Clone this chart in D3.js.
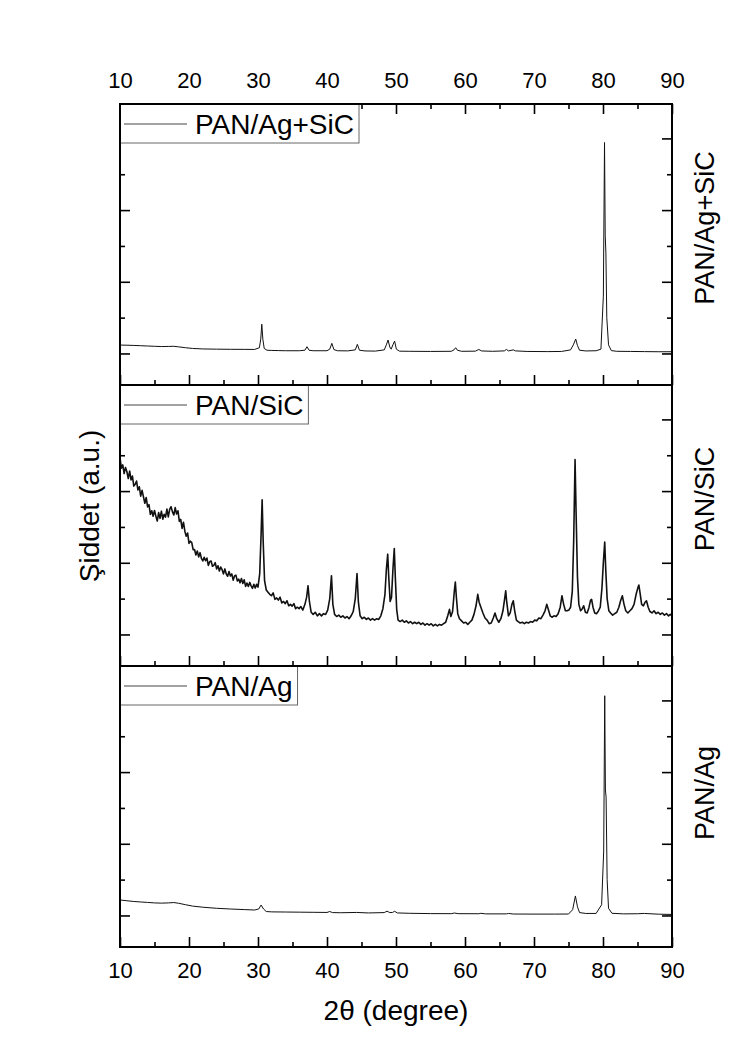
<!DOCTYPE html>
<html>
<head>
<meta charset="utf-8">
<script src="https://cdn.jsdelivr.net/npm/d3@7"></script>
<style>
  body { margin: 0; background: #fff; }
  text { font-family: "Liberation Sans", Arial, sans-serif; fill: #000; }
</style>
</head>
<body>
<div id="chart"></div>
<script>
const W = 731, H = 1050;
const panelNames = ["PAN/Ag+SiC", "PAN/SiC", "PAN/Ag"];
const xMajor = [10, 20, 30, 40, 50, 60, 70, 80, 90];
const xMinor = [15, 25, 35, 45, 55, 65, 75, 85];
const yMajor = [0, 1000, 2000, 3000];
const yMinor = [500, 1500, 2500];

// [2θ, intensity]
const agSic = [
  [10,117],[11,115],[12,112],[13,108],[14,104],[15,100],[16,96],[17,98],[17.8,100],[18.5,92],[19.5,80],[20.5,70],
  [22,63],[24,60],[26,58],[28,57],[29.5,56],[30.2,80],[30.4,200],[30.55,408],[30.7,200],[30.9,70],[31.3,45],
  [32,42],[33,40],[34,38],[36,38],[36.8,45],[37.1,94],[37.4,45],[38,38],[40,38],[40.4,60],[40.7,141],[41,55],
  [41.5,38],[43,36],[44.1,50],[44.4,127],[44.7,45],[45.5,35],[47,33],[48.3,50],[48.6,120],[48.85,187],[49.1,90],
  [49.3,60],[49.55,120],[49.8,173],[50.05,60],[50.5,32],[52,30],[55,28],[58,30],[58.4,50],[58.65,80],[58.9,45],
  [59.5,30],[61.5,32],[62,56],[62.4,35],[64,30],[65.7,36],[66,56],[66.3,36],[67,50],[67.3,36],[69,28],[72,26],
  [74,28],[75.3,50],[75.7,120],[76.05,201],[76.3,110],[76.6,45],[77.5,35],[79,38],[79.7,60],[80.05,800],
  [80.22,2943],[80.32,1650],[80.42,1400],[80.55,500],[80.8,120],[81.2,40],[82,30],[84,28],[86,26],[88,24],[90,24]
];

const sic = [
  [10,2460],[10.2,2320],[10.4,2365],[10.6,2245],[10.8,2330],[11,2270],[11.2,2175],[11.4,2280],[11.6,2155],
  [11.8,2210],[12,2070],[12.2,2095],[12.4,2140],[12.6,2015],[12.8,2060],[13,1930],[13.2,2010],[13.4,1920],
  [13.6,1830],[13.8,1910],[14,1780],[14.2,1810],[14.4,1675],[14.6,1725],[14.8,1650],[15,1730],[15.2,1650],
  [15.4,1582],[15.6,1700],[15.8,1620],[16,1720],[16.2,1608],[16.4,1676],[16.6,1636],[16.8,1748],[17,1640],
  [17.2,1746],[17.4,1782],[17.6,1710],[17.8,1666],[18,1770],[18.2,1680],[18.4,1725],[18.6,1578],[18.8,1605],
  [19,1480],[19.2,1565],[19.4,1440],[19.6,1370],[19.8,1415],[20,1271],[20.2,1301],[20.4,1282],[20.6,1184],
  [20.8,1185],[21,1108],[21.2,1165],[21.4,1082],[21.6,1141],[21.8,1062],[22,1025],[22.2,1076],[22.4,1029],
  [22.6,1066],[22.8,963],[23,1014],[23.2,1025],[23.4,952],[23.6,963],[23.8,1002],[24,915],[24.2,959],[24.4,884],
  [24.6,940],[24.8,903],[25,845],[25.2,914],[25.4,843],[25.6,812],[25.8,877],[26,816],[26.2,846],[26.4,757],
  [26.6,816],[26.8,827],[27,747],[27.2,772],[27.4,720],[27.6,780],[27.8,711],[28,762],[28.2,670],[28.4,718],
  [28.6,669],[28.8,726],[29,678],[29.2,644],[29.4,701],[29.6,647],[29.8,699],[30,660],
  [30.25,850],[30.45,1400],[30.6,1880],[30.75,1300],[30.95,750],[31.2,620],[31.45,590],[31.7,560],[31.95,540],
  [32.2,580],[32.45,490],[32.7,510],[32.95,480],[33.2,520],[33.45,440],[33.7,460],[33.95,430],[34.2,470],
  [34.45,400],[34.7,420],[34.95,395],[35.2,430],[35.45,360],[35.7,380],[35.95,360],[36.2,390],[36.5,340],
  [36.8,420],[37.05,520],[37.25,680],[37.45,460],[37.7,310],[38,280],[38.3,310],[38.6,260],[38.9,290],
  [39.2,260],[39.5,290],[39.8,280],[40.1,340],[40.4,500],[40.65,820],[40.85,420],[41.1,280],[41.4,250],
  [41.7,270],[42,240],[42.3,260],[42.6,230],[42.9,250],[43.2,220],[43.5,260],[43.8,320],[44.1,500],[44.35,850],
  [44.55,450],[44.8,260],[45.1,220],[45.4,240],[45.7,210],[46,230],[46.3,200],[46.6,220],[46.9,200],[47.2,220],
  [47.5,210],[47.8,260],[48.1,360],[48.4,560],[48.6,900],[48.8,1120],[48.95,800],[49.15,460],[49.35,520],
  [49.55,900],[49.75,1200],[49.9,800],[50.1,350],[50.3,200],[50.6,180],[50.9,200],[51.2,170],[51.5,190],
  [51.8,160],[52.1,180],[52.4,150],[52.7,170],[53,150],[53.3,170],[53.6,140],[53.9,160],[54.2,130],[54.5,150],
  [54.8,130],[55.1,150],[55.4,120],[55.7,140],[56,120],[56.3,140],[56.6,130],[56.9,150],[57.2,170],[57.5,260],
  [57.75,350],[57.95,250],[58.2,320],[58.45,600],[58.6,730],[58.75,520],[58.95,290],[59.2,220],[59.5,190],
  [59.8,160],[60.1,170],[60.4,140],[60.7,170],[61,200],[61.3,280],[61.6,400],[61.85,560],[62.05,450],[62.3,380],
  [62.6,300],[62.9,230],[63.2,200],[63.5,150],[63.8,160],[64.1,230],[64.35,300],[64.6,220],[64.9,170],[65.2,220],
  [65.5,330],[65.75,500],[65.9,610],[66.05,450],[66.3,260],[66.55,300],[66.8,420],[67,470],[67.2,330],
  [67.45,200],[67.7,180],[68,160],[68.3,170],[68.6,150],[68.9,170],[69.2,160],[69.5,180],[69.8,170],[70.1,200],
  [70.4,190],[70.7,230],[71,220],[71.3,270],[71.6,330],[71.85,420],[72.1,340],[72.35,260],[72.6,240],[72.9,260],
  [73.2,250],[73.5,290],[73.8,380],[74.05,540],[74.3,420],[74.55,330],[74.8,330],[75.05,340],[75.3,380],
  [75.55,600],[75.75,1300],[75.95,2440],[76.1,1700],[76.3,800],[76.5,420],[76.75,330],[77,360],[77.2,400],
  [77.45,310],[77.7,300],[77.95,370],[78.2,480],[78.35,490],[78.55,380],[78.8,300],[79.05,290],[79.3,320],
  [79.6,380],[79.85,650],[80.05,1000],[80.25,1290],[80.4,900],[80.6,500],[80.85,330],[81.1,300],[81.4,270],
  [81.7,290],[82,310],[82.3,380],[82.55,470],[82.8,540],[83.05,420],[83.3,330],[83.6,300],[83.9,330],[84.2,360],
  [84.5,420],[84.8,560],[85.05,650],[85.2,690],[85.4,560],[85.6,420],[85.85,400],[86.1,450],[86.3,470],
  [86.55,380],[86.8,320],[87.1,300],[87.4,330],[87.7,290],[88,310],[88.3,280],[88.6,300],[88.9,270],[89.2,290],
  [89.5,260],[89.75,280],[90,260]
];

const ag = [
  [10,216],[11,205],[12,195],[13,188],[14,182],[15,175],[16,172],[17,175],[17.8,180],[18.5,170],[19.5,150],
  [20.5,131],[22,115],[24,100],[26,90],[28,82],[29.5,76],[30.1,90],[30.45,145],[30.8,90],[31.2,55],[32,50],
  [34,48],[36,46],[38,44],[40,42],[40.4,55],[40.8,40],[42,38],[44.3,42],[46,35],[48.3,40],[48.7,60],[49.1,40],
  [49.5,42],[49.8,58],[50.2,35],[52,30],[55,26],[58,25],[58.5,34],[59,25],[62,24],[62.3,30],[63,22],[66,22],
  [66.3,28],[67,20],[70,19],[73,19],[75,20],[75.6,80],[76,272],[76.3,120],[76.6,40],[77.5,28],[79,28],
  [79.8,150],[80.1,900],[80.25,3065],[80.35,1750],[80.45,1650],[80.6,500],[80.8,100],[81.3,30],[83,22],
  [85,24],[86,28],[88,18],[90,14]
];

const series = [agSic, sic, ag];
const lineWidths = [1, 1.6, 1];

const left = 120, right = 672;
const tops = [104, 385, 666], panelH = 281;
const rightLabelY = [228, 499, 793];

const svg = d3.select("#chart").append("svg").attr("width", W).attr("height", H);
const x = d3.scaleLinear().domain([10, 90]).range([left, right]);

series.forEach((data, i) => {
  const top = tops[i], bottom = top + panelH;
  const y = d3.scaleLinear().domain([-440, 3480]).range([bottom, top]);
  const g = svg.append("g");

  g.append("path")
    .datum(data)
    .attr("fill", "none")
    .attr("stroke", "#111")
    .attr("stroke-width", lineWidths[i])
    .attr("stroke-linejoin", "round")
    .attr("d", d3.line().x((d) => x(d[0])).y((d) => y(d[1])));

  // ticks, all pointing inwards
  const addAxis = (axis, tx, ty) => {
    const a = g.append("g").attr("transform", `translate(${tx},${ty})`).call(axis);
    a.select(".domain").remove();
    a.selectAll("line").attr("stroke", "#000").attr("stroke-width", 1.6);
    a.selectAll("text").style("font-size", "22px").attr("fill", "#000");
    return a;
  };
  addAxis(d3.axisLeft(y).tickValues(yMajor).tickSize(-10).tickFormat(""), left, 0);
  addAxis(d3.axisLeft(y).tickValues(yMinor).tickSize(-5).tickFormat(""), left, 0);
  addAxis(d3.axisRight(y).tickValues(yMajor).tickSize(-10).tickFormat(""), right, 0);
  addAxis(d3.axisRight(y).tickValues(yMinor).tickSize(-5).tickFormat(""), right, 0);

  addAxis(d3.axisBottom(x).tickValues(xMajor).tickSize(-10).tickPadding(15)
    .tickFormat(i === 2 ? d3.format("d") : ""), 0, bottom);
  addAxis(d3.axisBottom(x).tickValues(xMinor).tickSize(-5).tickFormat(""), 0, bottom);
  if (i === 0) {
    addAxis(d3.axisTop(x).tickValues(xMajor).tickSize(-10).tickPadding(16).tickFormat(d3.format("d")), 0, top);
    addAxis(d3.axisTop(x).tickValues(xMinor).tickSize(-5).tickFormat(""), 0, top);
  }

  // legend box
  const lg = g.append("g");
  const rect = lg.append("rect")
    .attr("x", left).attr("y", top).attr("height", 39)
    .attr("fill", "#fff").attr("stroke", "#666").attr("stroke-width", 1);
  lg.append("line")
    .attr("x1", left + 4).attr("x2", left + 67)
    .attr("y1", top + 20).attr("y2", top + 20)
    .attr("stroke", "#444").attr("stroke-width", 1);
  const lt = lg.append("text")
    .attr("x", left + 75).attr("y", top + 30)
    .style("font-size", "28px")
    .text(panelNames[i]);
  rect.attr("width", 75 + lt.node().getComputedTextLength() + 5);

  // frame
  g.append("rect")
    .attr("x", left).attr("y", top)
    .attr("width", right - left).attr("height", panelH)
    .attr("fill", "none").attr("stroke", "#000").attr("stroke-width", 2);

  svg.append("text")
    .attr("transform", `translate(714,${rightLabelY[i]}) rotate(-90)`)
    .attr("text-anchor", "middle")
    .style("font-size", "27px")
    .text(panelNames[i]);
});

svg.append("text")
  .attr("x", (left + right) / 2).attr("y", 1020)
  .attr("text-anchor", "middle")
  .style("font-size", "28px")
  .text("2θ (degree)");

svg.append("text")
  .attr("transform", "translate(99,506) rotate(-90)")
  .attr("text-anchor", "middle")
  .style("font-size", "28px")
  .text("Şiddet (a.u.)");
</script>
</body>
</html>
